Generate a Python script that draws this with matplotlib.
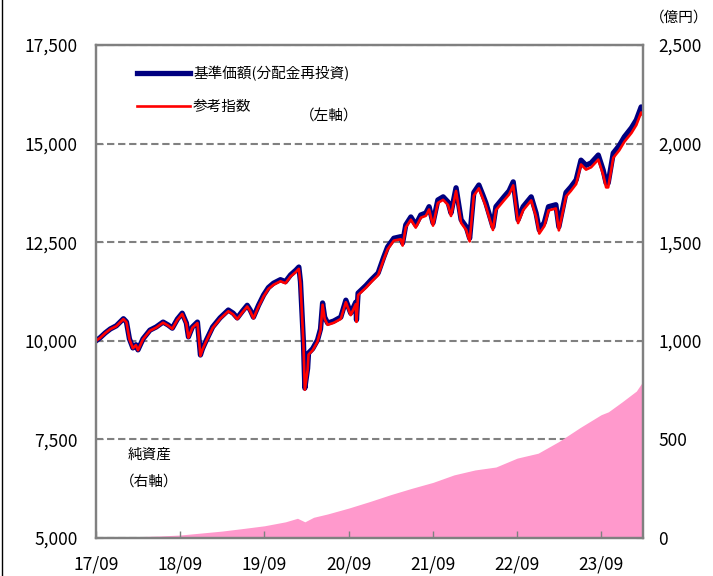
import matplotlib
matplotlib.use('Agg')
import matplotlib.pyplot as plt
from matplotlib.lines import Line2D
import pandas as pd

plt.rcParams['font.family'] = ['Noto Sans CJK JP', 'DejaVu Sans']

##############################################################################
## Data

fund_dates = ['2017-09-29', '2017-10-17', '2017-11-08', '2017-11-30', '2017-12-26',
              '2018-01-26', '2018-02-08', '2018-02-21', '2018-03-08', '2018-03-21',
              '2018-03-30', '2018-04-21', '2018-05-21', '2018-06-17', '2018-07-17',
              '2018-08-08', '2018-08-26', '2018-09-17', '2018-10-08', '2018-10-26',
              '2018-11-04', '2018-11-21', '2018-12-13', '2018-12-19', '2018-12-26',
              '2019-01-04', '2019-01-17', '2019-02-17', '2019-03-21', '2019-04-26',
              '2019-05-17', '2019-06-04', '2019-06-26', '2019-07-17', '2019-07-30',
              '2019-08-13', '2019-09-04', '2019-09-26', '2019-10-17', '2019-11-08',
              '2019-12-08', '2019-12-30', '2020-01-21', '2020-02-13', '2020-02-26',
              '2020-03-04', '2020-03-17', '2020-03-23', '2020-04-04', '2020-04-08',
              '2020-04-26', '2020-05-17', '2020-05-30', '2020-06-08', '2020-06-17',
              '2020-06-30', '2020-07-26', '2020-08-26', '2020-09-17', '2020-10-08',
              '2020-10-30', '2020-11-02', '2020-11-09', '2020-12-13', '2021-01-04',
              '2021-02-04', '2021-02-28', '2021-03-17', '2021-04-13', '2021-05-13',
              '2021-05-21', '2021-06-04', '2021-06-26', '2021-07-17', '2021-08-08',
              '2021-08-30', '2021-09-13', '2021-09-30', '2021-10-21', '2021-11-13',
              '2021-12-04', '2021-12-17', '2022-01-08', '2022-01-30', '2022-02-21',
              '2022-03-08', '2022-03-26', '2022-04-17', '2022-05-04', '2022-05-17',
              '2022-06-17', '2022-06-30', '2022-08-04', '2022-08-26', '2022-09-13',
              '2022-10-04', '2022-10-26', '2022-11-30', '2022-12-21', '2023-01-04',
              '2023-01-26', '2023-02-13', '2023-03-17', '2023-03-30', '2023-04-30',
              '2023-05-21', '2023-06-13', '2023-07-04', '2023-07-26', '2023-08-17',
              '2023-09-17', '2023-10-08', '2023-10-21', '2023-10-30', '2023-11-21',
              '2023-12-17', '2024-01-08', '2024-02-08', '2024-02-29', '2024-03-21',
              '2024-03-29']

# 基準価額(分配金再投資)
fund = [10000, 10080, 10200, 10300, 10380,
        10560, 10480, 10050, 9820, 9900,
        9770, 10050, 10270, 10350, 10475,
        10400, 10320, 10550, 10700, 10450,
        10100, 10350, 10475, 10100, 9640,
        9800, 9970, 10350, 10580, 10780,
        10700, 10580, 10750, 10900, 10780,
        10600, 10900, 11160, 11350, 11460,
        11550, 11500, 11670, 11790, 11870,
        11500, 9950, 8800, 9300, 9690,
        9800, 10020, 10300, 10960, 10600,
        10450, 10500, 10600, 11030, 10700,
        10980, 10530, 11210, 11400, 11540,
        11720, 12120, 12380, 12600, 12640,
        12480, 12940, 13140, 12940, 13190,
        13240, 13400, 12990, 13570, 13650,
        13520, 13240, 13880, 13070, 12890,
        12600, 13760, 13950, 13700, 13500,
        12890, 13400, 13650, 13800, 14030,
        13070, 13400, 13650, 13240, 12810,
        13000, 13400, 13450, 12890, 13760,
        13900, 14080, 14580, 14450, 14510,
        14710, 14330, 14000, 14000, 14760,
        14950, 15170, 15400, 15600, 15930,
        15850]

# 参考指数
index = [10000, 10075, 10195, 10295, 10370,
         10550, 10470, 10040, 9810, 9890,
         9760, 10040, 10255, 10335, 10460,
         10385, 10305, 10530, 10680, 10430,
         10080, 10330, 10450, 10080, 9620,
         9780, 9950, 10325, 10555, 10750,
         10670, 10550, 10720, 10870, 10750,
         10570, 10865, 11125, 11315, 11420,
         11510, 11460, 11630, 11745, 11825,
         11455, 9910, 8760, 9260, 9650,
         9760, 9980, 10260, 10915, 10555,
         10405, 10455, 10555, 10980, 10650,
         10930, 10480, 11160, 11345, 11485,
         11665, 12060, 12320, 12540, 12575,
         12415, 12875, 13070, 12870, 13120,
         13170, 13330, 12920, 13495, 13575,
         13445, 13165, 13800, 12990, 12810,
         12520, 13680, 13865, 13615, 13415,
         12810, 13315, 13560, 13710, 13940,
         12985, 13310, 13560, 13150, 12720,
         12910, 13305, 13355, 12800, 13660,
         13800, 13975, 14470, 14340, 14400,
         14595, 14215, 13890, 13890, 14640,
         14830, 15045, 15270, 15470, 15790,
         15710]

asset_dates = ['2017-09-29', '2017-12-29', '2018-03-30', '2018-06-29', '2018-09-28',
               '2018-12-28', '2019-03-29', '2019-06-28', '2019-09-30', '2019-12-30',
               '2020-02-20', '2020-03-23', '2020-04-30', '2020-06-30', '2020-09-30',
               '2020-12-30', '2021-03-31', '2021-06-30', '2021-09-30', '2021-12-30',
               '2022-03-31', '2022-06-30', '2022-09-30', '2022-12-30', '2023-03-31',
               '2023-06-30', '2023-09-29', '2023-10-31', '2023-12-29', '2024-02-29',
               '2024-03-29']
# 純資産 (億円)
assets = [0, 3, 7, 10, 15,
          25, 35, 48, 62, 82,
          100, 82, 105, 122, 152,
          185, 220, 252, 282, 320,
          345, 360, 405, 430, 490,
          560, 625, 640, 690, 745,
          795]

tick_dates = ['2017-09-29', '2018-09-29', '2019-09-29', '2020-09-29',
              '2021-09-29', '2022-09-29', '2023-09-29']
tick_labels = ['17/09', '18/09', '19/09', '20/09', '21/09', '22/09', '23/09']
left_ticks = [5000, 7500, 10000, 12500, 15000, 17500]
left_labels = ['5,000', '7,500', '10,000', '12,500', '15,000', '17,500']
right_ticks = [0, 500, 1000, 1500, 2000, 2500]
right_labels = ['0', '500', '1,000', '1,500', '2,000', '2,500']

##############################################################################
## Plotting

fund_dates = pd.to_datetime(fund_dates)
asset_dates = pd.to_datetime(asset_dates)
tick_dates = pd.to_datetime(tick_dates)

grey = '#808080'
jfs = 10.5  # size of the japanese notes

fig = plt.figure(figsize=(7.13, 5.76), dpi=100)
ax = fig.add_axes([96/713, 38/576, 547/713, 493/576])
ax2 = ax.twinx()

# net assets (right axis) behind the lines, gridlines under the fill
ax2.fill_between(asset_dates, assets, 0, color='#FF99CC', lw=0, zorder=2)
ax2.set_ylim(0, 2500)
ax2.set_axisbelow(True)
ax2.yaxis.grid(True, color=grey, lw=1.5, ls=(0, (3.5, 1.8)))
ax2.set_yticks(right_ticks, right_labels)

ax.set_zorder(ax2.get_zorder() + 1)
ax.patch.set_visible(False)

ax.plot(fund_dates, fund, color='#000080', lw=3.8, label='基準価額(分配金再投資)',
        solid_joinstyle='round')
ax.plot(fund_dates, index, color='#FF0000', lw=1.9, label='参考指数',
        solid_joinstyle='round')

ax.set_ylim(5000, 17500)
ax.set_xlim(pd.Timestamp('2017-09-29'), pd.Timestamp('2024-03-29'))
ax.set_yticks(left_ticks, left_labels)
ax.set_xticks(tick_dates, tick_labels)

for a in (ax, ax2):
    for s in a.spines.values():
        s.set_color(grey)
        s.set_linewidth(1.6)

ax.tick_params(axis='y', direction='in', length=5, color=grey, labelsize=12.5, pad=13)
ax.tick_params(axis='x', direction='in', length=5, color=grey, width=1,
               labelsize=12.5, pad=12.5)
ax2.tick_params(axis='y', direction='in', length=5, color=grey, labelsize=12.5, pad=11)

leg = ax.legend(loc='upper left', bbox_to_anchor=(0.075, 0.958), frameon=False,
                fontsize=jfs, handlelength=3.6, handletextpad=0.25,
                labelspacing=1.3, borderpad=0, borderaxespad=0)

ax.text(0.372, 0.855, '（左軸）', transform=ax.transAxes, fontsize=jfs,
        ha='left', va='center')
ax.text(0.0585, 0.168, '純資産', transform=ax.transAxes, fontsize=jfs,
        ha='left', va='center')
ax.text(0.044, 0.114, '（右軸）', transform=ax.transAxes, fontsize=jfs,
        ha='left', va='center')
fig.text(0.912, 0.970, '（億円）', fontsize=jfs, ha='left', va='center')

# thin frame line on the left edge of the picture
fig.add_artist(Line2D([0.003, 0.003], [0, 1], transform=fig.transFigure,
                      color='black', lw=1))

fig.savefig('out.png', dpi=100)
